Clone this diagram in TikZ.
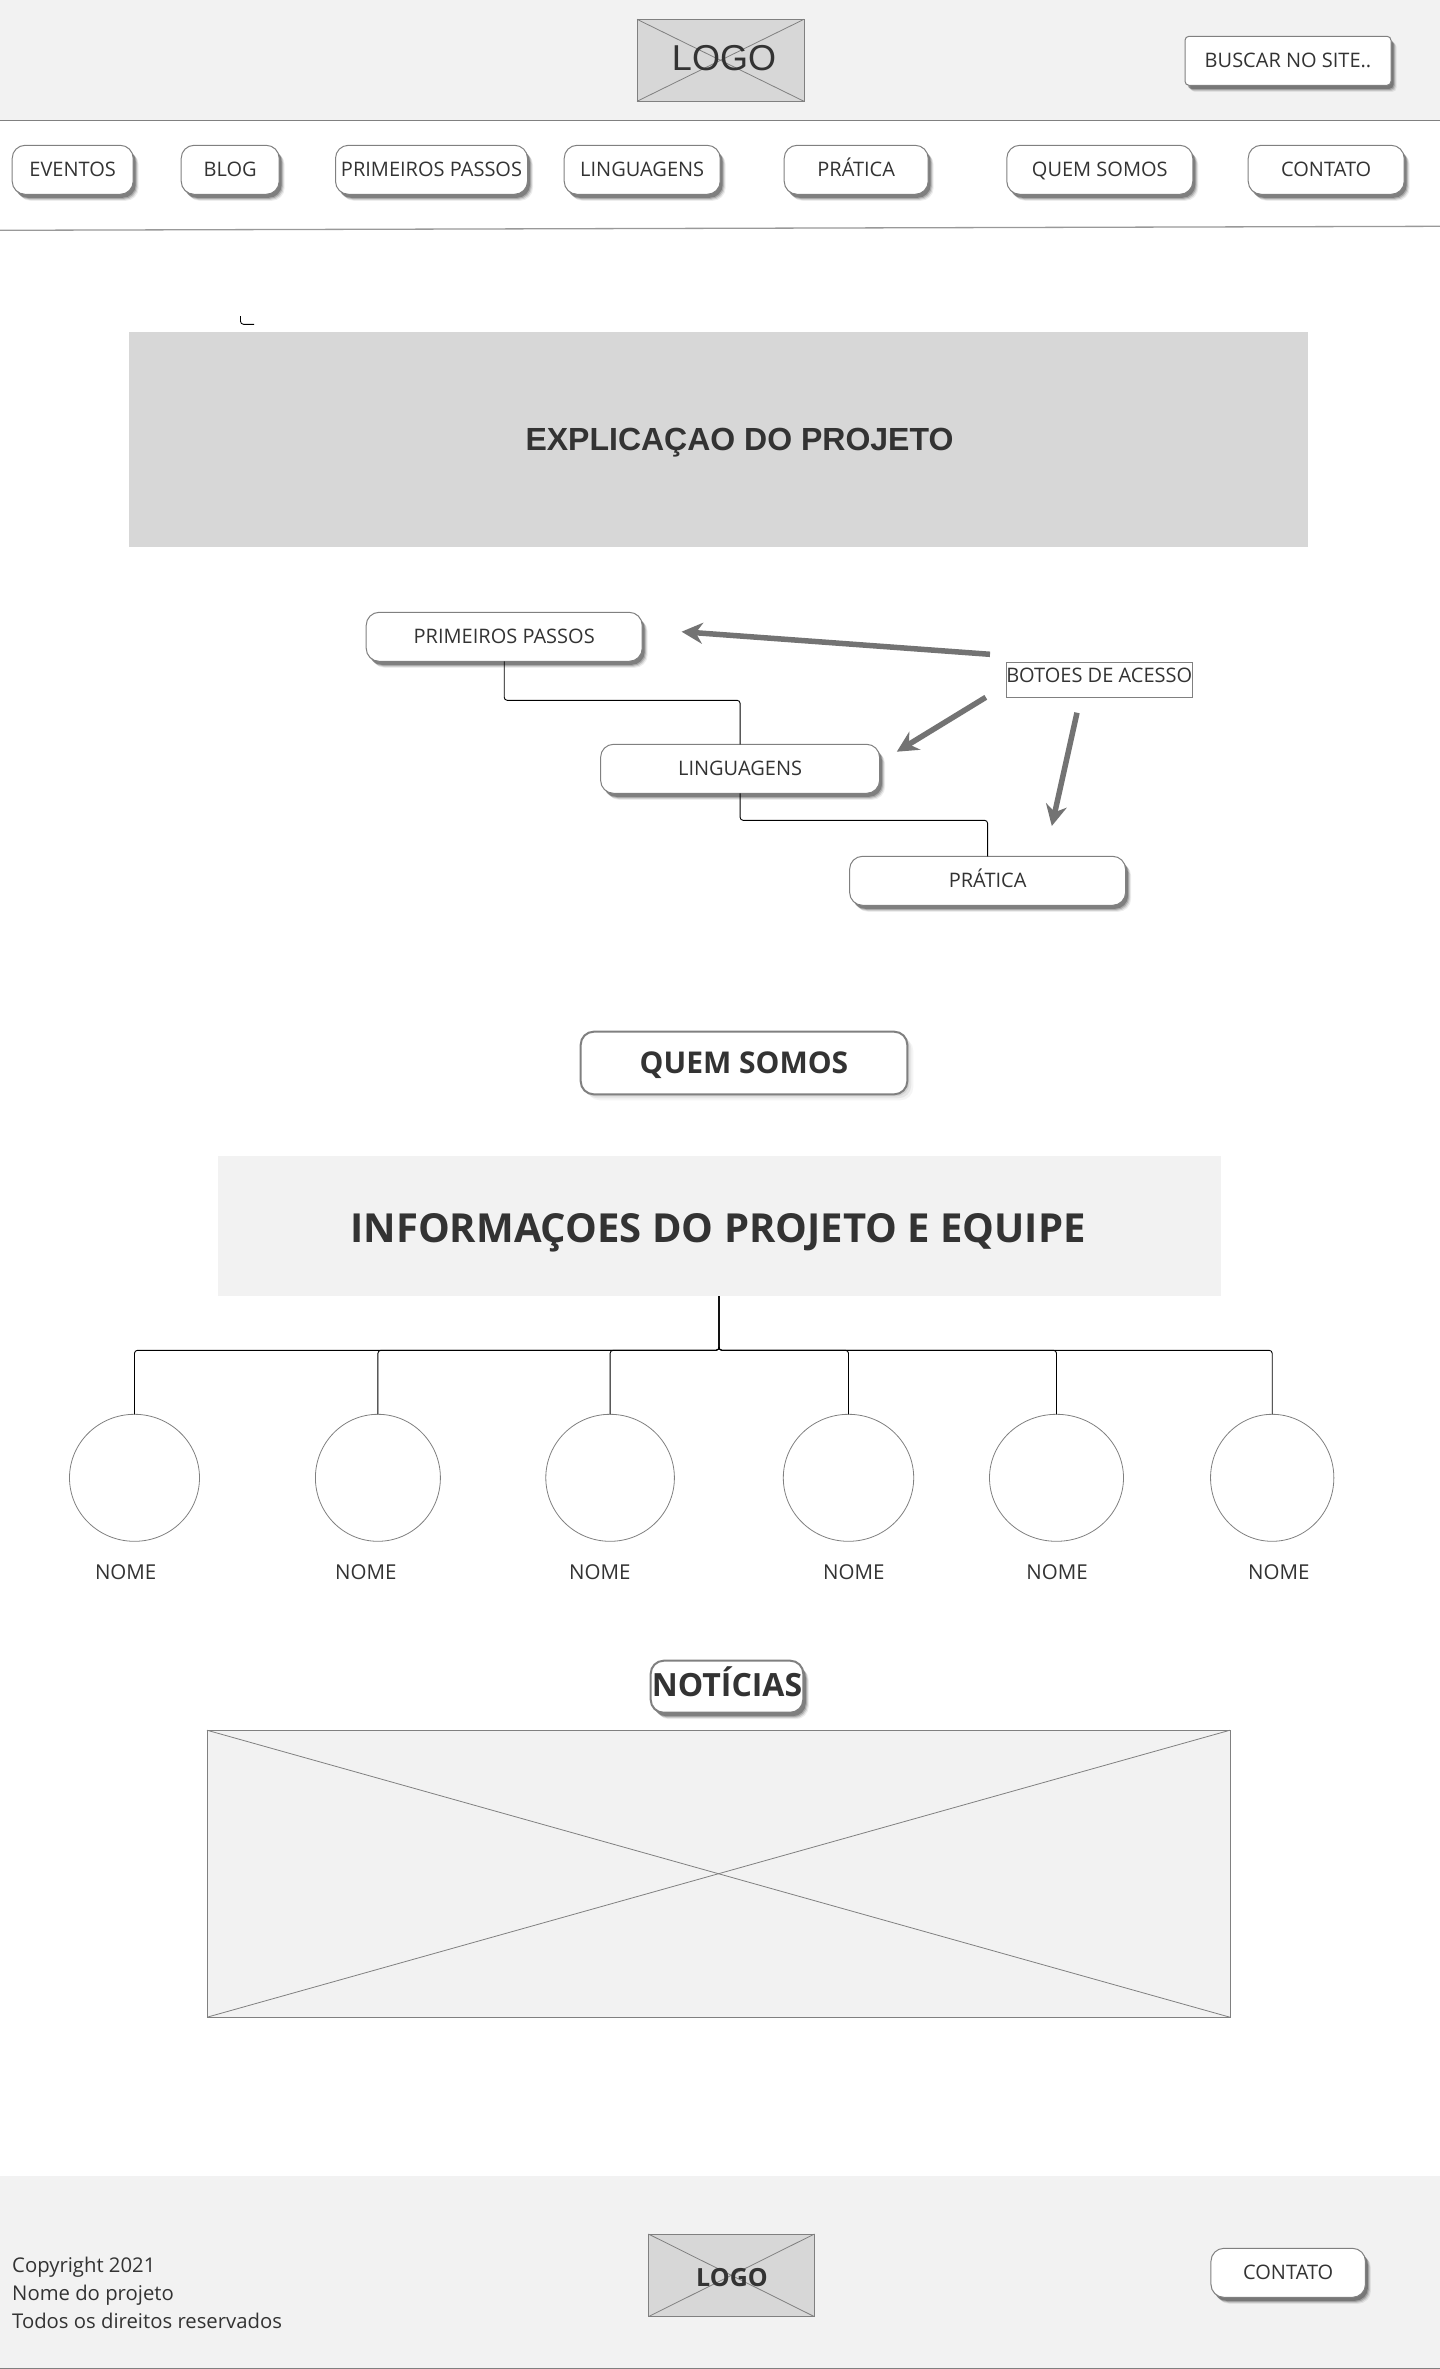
\documentclass[tikz,border=0pt]{standalone}
\usepackage{fontspec}
\setmainfont{Open Sans}
\newfontfamily\arialf{Liberation Sans}
\usetikzlibrary{shapes.geometric,shadows,arrows.meta}
\newcommand{\fsz}[1]{\fontsize{#1pt}{#1pt}\selectfont}
\definecolor{panel}{HTML}{F2F2F2}
\definecolor{logofill}{HTML}{D7D7D7}
\definecolor{edge}{HTML}{808080}
\definecolor{ink}{HTML}{333333}
\definecolor{arrowgray}{HTML}{737373}
\tikzset{
  softshadow/.style={
    general shadow={shadow xshift=5.5pt,shadow yshift=-6.5pt,fill=black,opacity=.07},
    general shadow={shadow xshift=4.5pt,shadow yshift=-5.5pt,fill=black,opacity=.12},
    general shadow={shadow xshift=3.5pt,shadow yshift=-4.5pt,fill=black,opacity=.18},
    general shadow={shadow xshift=2.5pt,shadow yshift=-3.5pt,fill=black,opacity=.25}},
  lightshadow/.style={
    general shadow={shadow xshift=6pt,shadow yshift=-6pt,fill=black,opacity=.04},
    general shadow={shadow xshift=4pt,shadow yshift=-4pt,fill=black,opacity=.06},
    general shadow={shadow xshift=2pt,shadow yshift=-2pt,fill=black,opacity=.08}},
  box/.style={rectangle,inner sep=0pt,outer sep=0pt,text=ink,text height=14.3pt,text depth=0pt},
  navbtn/.style={box,softshadow,draw=edge,line width=1pt,fill=white,rounded corners=13pt,font=\fsz{20}},
  searchbtn/.style={navbtn,rounded corners=4pt},
  titlebtn/.style={box,draw=edge,line width=2pt,fill=white,rounded corners=13pt,font=\fsz{30}\bfseries,text height=21.4pt},
  panelbox/.style={box,fill=panel},
  xbox/.style={box,draw=edge,line width=1pt},
  xline/.style={draw=edge,line width=.8pt},
  person/.style={ellipse,inner sep=0pt,outer sep=0pt,draw=edge,line width=.8pt,fill=white},
  lbl/.style={text=ink,inner sep=0pt,font=\fsz{20},text height=14.5pt,text depth=0pt},
  conn/.style={draw=black,line width=.9pt,rounded corners=3pt},
  pointer/.style={draw=arrowgray,line width=5.5pt,-{Stealth[length=21pt,width=21pt]}},
  rule/.style={draw=edge,line width=1pt}
}
\begin{document}
\begin{tikzpicture}[x=1pt,y=-1pt]
\useasboundingbox (0,0) rectangle (1440,2369);
\fill[white] (0,0) rectangle (1440,2369);
% header
\fill[panel] (0,0) rectangle (1440,120);
\draw[rule] (0,120) -- (1440,120);
\draw[rule,line width=1.3pt,draw=edge!80] (0,230.3) -- (1440,226.3);
\node[xbox,fill=logofill,minimum width=167pt,minimum height=82pt] (toplogo) at (720.5,60.3) {};
\draw[xline] (toplogo.north west) -- (toplogo.south east);
\draw[xline] (toplogo.south west) -- (toplogo.north east);
\node[lbl,font=\arialf\fsz{36},text height=25.8pt] (toplogotext) at (724,58) {LOGO};
\node[searchbtn,minimum width=206pt,minimum height=49pt] (search) at (1288,60.8) {BUSCAR NO SITE..};
% nav
\node[navbtn,minimum width=121pt,minimum height=49pt] (nav1) at (72.7,169.8) {EVENTOS};
\node[navbtn,minimum width=98pt,minimum height=49pt] (nav2) at (230.2,169.8) {BLOG};
\node[navbtn,minimum width=192pt,minimum height=49pt] (nav3) at (431.5,169.8) {PRIMEIROS PASSOS};
\node[navbtn,minimum width=156pt,minimum height=49pt] (nav4) at (642.2,169.8) {LINGUAGENS};
\node[navbtn,minimum width=144pt,minimum height=49pt] (nav5) at (856.2,169.8) {PRÁTICA};
\node[navbtn,minimum width=186pt,minimum height=49pt] (nav6) at (1099.8,169.8) {QUEM SOMOS};
\node[navbtn,minimum width=156pt,minimum height=49pt] (nav7) at (1326.2,169.8) {CONTATO};
% stray corner
\draw[conn] (240.5,316) -- (240.5,324.3) -- (254,324.3);
% explanation
\node[box,fill=logofill,minimum width=1179pt,minimum height=215pt] (explain) at (718.5,439.5) {};
\node[lbl,font=\arialf\fsz{32}\bfseries,text height=22.9pt] (explaintext) at (739.5,439) {EXPLICAÇAO DO PROJETO};
% access buttons
\node[navbtn,minimum width=276pt,minimum height=49pt] (pp) at (504.2,636.8) {PRIMEIROS PASSOS};
\node[navbtn,minimum width=279pt,minimum height=49pt] (lg) at (740.1,768.8) {LINGUAGENS};
\node[navbtn,minimum width=276pt,minimum height=49pt] (pr) at (987.6,880.8) {PRÁTICA};
\node[box,draw=edge,line width=.8pt,fill=white,minimum width=185.5pt,minimum height=35pt,font=\fsz{20},text depth=9pt] (access) at (1099.2,679.8) {BOTOES DE ACESSO};
\draw[conn] (pp.south) -- ++(0,39) -| (lg.north);
\draw[conn] (lg.south) -- ++(0,27) -| (pr.north);
\coordinate (a1s) at (990,654.3);
\coordinate (a1e) at (681.6,631.7);
\coordinate (a2s) at (985.8,697.3);
\coordinate (a2e) at (896.8,751.7);
\coordinate (a3s) at (1077,712.7);
\coordinate (a3e) at (1051.8,826);
\draw[pointer] (a1s) -- (a1e);
\draw[pointer] (a2s) -- (a2e);
\draw[pointer] (a3s) -- (a3e);
% team
\node[titlebtn,lightshadow,minimum width=326.6pt,minimum height=62.6pt] (quem) at (744,1063) {QUEM SOMOS};
\node[panelbox,minimum width=1003pt,minimum height=140pt] (info) at (719,1226) {};
\node[lbl,font=\fsz{40}\bfseries,text height=28.6pt] (infotext) at (718,1228) {INFORMAÇOES DO PROJETO E EQUIPE};
\node[person,minimum width=130pt,minimum height=127pt] (c1) at (134.5,1477.8) {};
\node[person,minimum width=125pt,minimum height=127pt] (c2) at (377.9,1477.8) {};
\node[person,minimum width=128.6pt,minimum height=127pt] (c3) at (610.1,1477.8) {};
\node[person,minimum width=130.4pt,minimum height=127pt] (c4) at (848.5,1477.8) {};
\node[person,minimum width=134pt,minimum height=127pt] (c5) at (1056.5,1477.8) {};
\node[person,minimum width=123.3pt,minimum height=127pt] (c6) at (1272.2,1477.8) {};
\foreach \c in {c1,c2,c3,c4,c5,c6}{
  \draw[conn] (info.south) -- ++(0,54.3) -| (\c.north);
}
\node[lbl,font=\fsz{20.5}] (n1) at (125.7,1572.7) {NOME};
\node[lbl,font=\fsz{20.5}] (n2) at (365.9,1572.7) {NOME};
\node[lbl,font=\fsz{20.5}] (n3) at (599.8,1572.7) {NOME};
\node[lbl,font=\fsz{20.5}] (n4) at (853.8,1572.7) {NOME};
\node[lbl,font=\fsz{20.5}] (n5) at (1057,1572.7) {NOME};
\node[lbl,font=\fsz{20.5}] (n6) at (1278.8,1572.7) {NOME};
% news
\node[xbox,fill=panel,minimum width=1023pt,minimum height=287pt] (news) at (718.5,1873.7) {};
\draw[xline] (news.north west) -- (news.south east);
\draw[xline] (news.south west) -- (news.north east);
\node[titlebtn,softshadow,minimum width=152.6pt,minimum height=52pt,font=\fsz{32}\bfseries,text height=20pt] (noticias) at (727,1686.7) {NOTÍCIAS};
% footer
\fill[panel] (0,2176) rectangle (1440,2368);
\draw[rule] (0,2368.4) -- (1440,2368.4);
\node[lbl,anchor=west,font=\fsz{20.3}] (f1) at (12,2265) {Copyright 2021};
\node[lbl,anchor=west,font=\fsz{20.3}] (f2) at (12,2293) {Nome do projeto};
\node[lbl,anchor=west,font=\fsz{20.3}] (f3) at (12,2321) {Todos os direitos reservados};
\node[xbox,fill=logofill,minimum width=166pt,minimum height=82.6pt] (botlogo) at (731.4,2275.3) {};
\draw[xline] (botlogo.north west) -- (botlogo.south east);
\draw[xline] (botlogo.south west) -- (botlogo.north east);
\node[lbl,font=\fsz{25}\bfseries,text height=17.9pt] (botlogotext) at (732,2278) {LOGO};
\node[navbtn,minimum width=154.5pt,minimum height=49pt] (fcontact) at (1288.2,2272.8) {CONTATO};
\end{tikzpicture}
\end{document}
